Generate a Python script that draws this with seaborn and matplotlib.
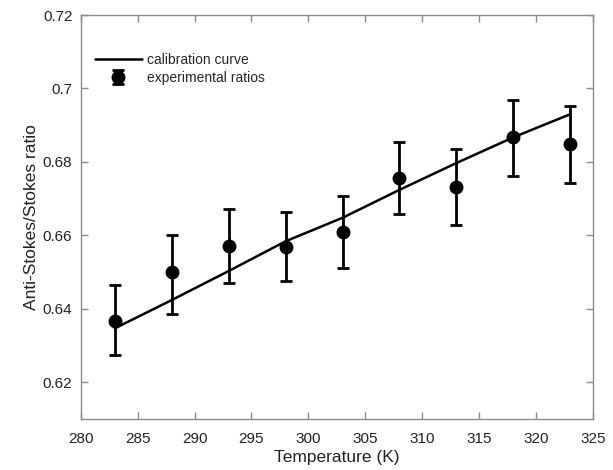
import matplotlib
matplotlib.use("Agg")
import matplotlib.pyplot as plt
import seaborn as sns
import pandas as pd

temperature = [283, 288, 293, 298, 303, 308, 313, 318, 323]
ratio = [0.6367, 0.6499, 0.6572, 0.6569, 0.6610, 0.6755, 0.6733, 0.6867, 0.6850]
err_low = [0.6274, 0.6387, 0.6471, 0.6475, 0.6512, 0.6657, 0.6627, 0.6763, 0.6744]
err_high = [0.6464, 0.6600, 0.6672, 0.6664, 0.6707, 0.6855, 0.6836, 0.6969, 0.6951]
calib = [0.6347, 0.6424, 0.6503, 0.6584, 0.6648, 0.6724, 0.6797, 0.6867, 0.6930]

xticks = [280, 285, 290, 295, 300, 305, 310, 315, 320, 325]
yticks = [0.62, 0.64, 0.66, 0.68, 0.70, 0.72]
yticklabels = ["0.62", "0.64", "0.66", "0.68", "0.7", "0.72"]

sns.set_theme(style="white")
plt.rcParams["font.family"] = ["Liberation Sans", "DejaVu Sans"]

fig = plt.figure(figsize=(6.13, 4.70), dpi=100)
ax = fig.add_axes([0.1317, 0.1085, 0.8357, 0.8595])

df_cal = pd.DataFrame({"T": temperature, "r": calib})
sns.lineplot(data=df_cal, x="T", y="r", ax=ax, color="black", linewidth=1.8,
             label="calibration curve")

lower = [r - l for r, l in zip(ratio, err_low)]
upper = [h - r for r, h in zip(ratio, err_high)]
ax.errorbar(temperature, ratio, yerr=[lower, upper], fmt="o", color="black",
            markersize=9, elinewidth=2, capsize=4.5, capthick=2,
            label="experimental ratios", zorder=3)

ax.set_xlim(280, 325)
ax.set_ylim(0.61, 0.72)
ax.set_xticks(xticks)
ax.set_yticks(yticks)
ax.set_yticklabels(yticklabels)

ax.set_xlabel("Temperature (K)", fontsize=12.5, color="#222222", labelpad=3)
ax.set_ylabel("Anti-Stokes/Stokes ratio", fontsize=12.5, color="#222222", labelpad=3)

for s in ax.spines.values():
    s.set_visible(True)
    s.set_color("#8c8c8c")
    s.set_linewidth(1.0)
ax.tick_params(axis="both", which="both", direction="in", length=5, width=1,
               color="#8c8c8c", labelsize=11, labelcolor="#222222",
               top=True, right=True, bottom=True, left=True, pad=6)
ax.tick_params(axis="x", pad=9.5)

leg = ax.legend(loc="upper left", frameon=False, fontsize=10,
                bbox_to_anchor=(0.003, 0.937), handlelength=3.4,
                handletextpad=0.35, labelspacing=0.3)

fig.savefig("out.png", dpi=100)
